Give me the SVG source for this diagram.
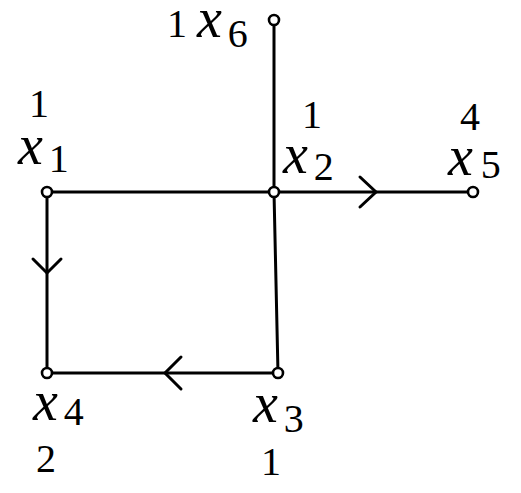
<svg xmlns="http://www.w3.org/2000/svg" width="521" height="493" viewBox="0 0 521 493">
<style>
.e{stroke:#000;stroke-width:3;fill:none;stroke-linecap:round}
.n{stroke:#000;stroke-width:2.6;fill:#fff}
</style>
<rect width="521" height="493" fill="#fff"/>
<g id="connectors">
<line class="e" x1="47" y1="192" x2="274" y2="192"/>
<line class="e" x1="274" y1="192" x2="473" y2="192"/>
<line class="e" x1="274" y1="20" x2="274" y2="192"/>
<line class="e" x1="274" y1="192" x2="278" y2="373"/>
<line class="e" x1="278" y1="373" x2="47" y2="373"/>
<line class="e" x1="47" y1="192" x2="47" y2="373"/>
<polyline class="e" points="33,259 47,273 61,259"/>
<polyline class="e" points="360,177 376,192 360,207"/>
<polyline class="e" points="181,357 165,373 181,389"/>
</g>
<g id="x1">
<circle class="n" cx="47" cy="192" r="5"/>
<text font-family="Liberation Serif, Times New Roman, serif" font-size="40" x="29" y="117">1</text>
<text font-family="Liberation Serif, Times New Roman, serif" font-size="40" x="18" y="164"><tspan font-style="italic" font-size="56">x</tspan><tspan dx="6" dy="8">1</tspan></text>
</g>
<g id="x2">
<circle class="n" cx="274" cy="192" r="5"/>
<text font-family="Liberation Serif, Times New Roman, serif" font-size="40" x="302" y="128">1</text>
<text font-family="Liberation Serif, Times New Roman, serif" font-size="40" x="283" y="173"><tspan font-style="italic" font-size="56">x</tspan><tspan dx="6" dy="7">2</tspan></text>
</g>
<g id="x3">
<circle class="n" cx="278" cy="373" r="5"/>
<text font-family="Liberation Serif, Times New Roman, serif" font-size="40" x="253" y="422"><tspan font-style="italic" font-size="56">x</tspan><tspan dx="6" dy="10">3</tspan></text>
<text font-family="Liberation Serif, Times New Roman, serif" font-size="40" x="261" y="475">1</text>
</g>
<g id="x4">
<circle class="n" cx="47" cy="373" r="5"/>
<text font-family="Liberation Serif, Times New Roman, serif" font-size="40" x="33" y="420"><tspan font-style="italic" font-size="56">x</tspan><tspan dx="6" dy="5">4</tspan></text>
<text font-family="Liberation Serif, Times New Roman, serif" font-size="40" x="36" y="472">2</text>
</g>
<g id="x5">
<circle class="n" cx="473" cy="192" r="5"/>
<text font-family="Liberation Serif, Times New Roman, serif" font-size="40" x="460" y="130">4</text>
<text font-family="Liberation Serif, Times New Roman, serif" font-size="40" x="448" y="175"><tspan font-style="italic" font-size="56">x</tspan><tspan dx="8" dy="3">5</tspan></text>
</g>
<g id="x6">
<circle class="n" cx="274" cy="20" r="5"/>
<text font-family="Liberation Serif, Times New Roman, serif" font-size="40" x="167" y="37">1 <tspan font-style="italic" font-size="56">x</tspan><tspan dx="6" dy="10">6</tspan></text>
</g>
</svg>
